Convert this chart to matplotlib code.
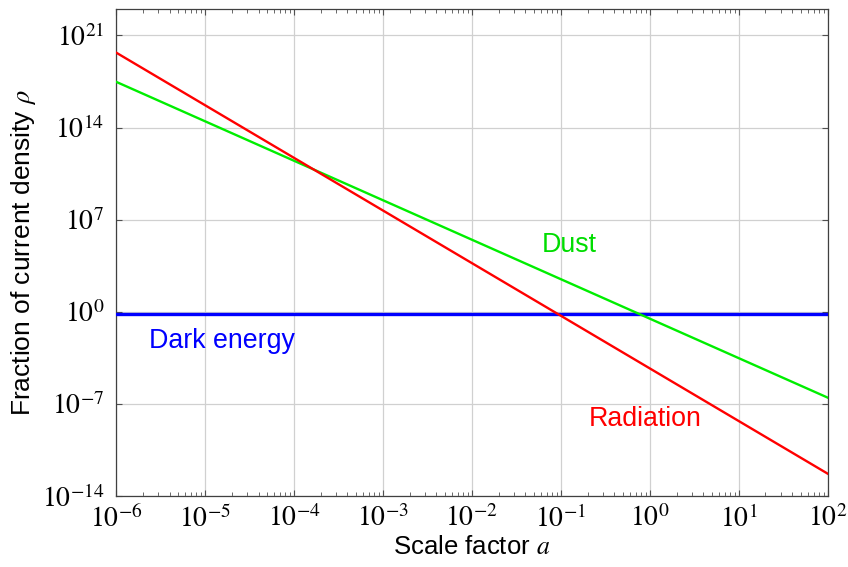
import math
import matplotlib
matplotlib.use("Agg")
import matplotlib.pyplot as plt
from matplotlib.ticker import FixedLocator, FuncFormatter, LogLocator, NullLocator

# Data (straight lines on log-log axes -> endpoints)
scale_factor = [1e-6, 1e2]
radiation = [5e19, 5e-13]
dust = [3e17, 3e-7]
dark_energy = [0.7, 0.7]

x_ticks = [1e-6, 1e-5, 1e-4, 1e-3, 1e-2, 1e-1, 1e0, 1e1, 1e2]
y_ticks = [1e-14, 1e-7, 1e0, 1e7, 1e14, 1e21]

plt.rcParams['mathtext.fontset'] = 'stix'
plt.rcParams['font.family'] = ['Liberation Sans', 'DejaVu Sans']

fig = plt.figure(figsize=(8.48, 5.67), dpi=100)
ax = fig.add_axes([0.1368, 0.1252, 0.976 - 0.1368, 0.984 - 0.1252])

ax.plot(scale_factor, dark_energy, color='#0000ff', lw=2.4, zorder=3)
ax.plot(scale_factor, dust, color='#00ee00', lw=1.7, zorder=3)
ax.plot(scale_factor, radiation, color='#ff0000', lw=1.7, zorder=4)

ax.set_xscale('log')
ax.set_yscale('log')
ax.set_xlim(1e-6, 1e2)
ax.set_ylim(1e-14, 1e23)

ax.xaxis.set_major_locator(FixedLocator(x_ticks))
ax.xaxis.set_minor_locator(LogLocator(base=10, subs=range(2, 10), numticks=100))
ax.yaxis.set_major_locator(FixedLocator(y_ticks))
ax.yaxis.set_minor_locator(NullLocator())

fmt = FuncFormatter(lambda v, p: r"$10^{%d}$" % round(math.log10(v)))
ax.xaxis.set_major_formatter(fmt)
ax.yaxis.set_major_formatter(fmt)

ax.grid(True, which='major', color='#d0d0d0', lw=0.9)
ax.set_axisbelow(True)
ax.tick_params(which='both', direction='in', top=True, right=True, color='#505050')
ax.tick_params(which='major', length=4.3, width=0.8, labelsize=20)
ax.tick_params(axis='x', which='major', pad=6.5)
ax.tick_params(axis='y', which='major', pad=8.5)
ax.tick_params(which='minor', length=2.9, width=0.6)
for s in ax.spines.values():
    s.set_color('#404040')
    s.set_linewidth(0.9)

ax.set_xlabel(r"Scale factor $a$", fontsize=18.5, labelpad=2)
ax.set_ylabel(r"Fraction of current density $\rho$", fontsize=19, labelpad=3)

ax.text(0.126, 10**5.1, "Dust", color='#00dd00', fontsize=19.3, ha='center', va='center')
ax.text(0.88, 10**-8.15, "Radiation", color='#ff0000', fontsize=19.3, ha='center', va='center')
ax.text(1.55e-5, 10**-2.25, "Dark energy", color='#0000ff', fontsize=19.3, ha='center', va='center')

fig.savefig("out.png", dpi=100)
